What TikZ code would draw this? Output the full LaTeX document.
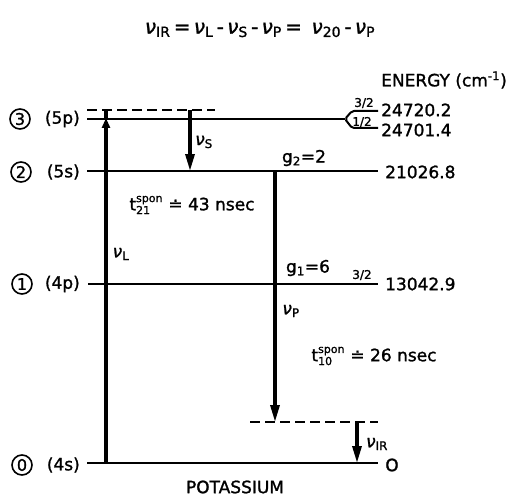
\documentclass[tikz,border=0pt]{standalone}
\usepackage{fontspec}
\setmainfont{DejaVu Sans}
\newfontfamily\lett{DejaVu Sans}[FakeBold=1.3]
\newcommand{\nusub}[1]{\textit{ν}\textsubscript{#1}}
\newcommand{\tspon}[1]{t$^{\mbox{\fontsize{11}{11}\selectfont spon}}_{\mbox{\fontsize{11}{11}\selectfont #1}}$}
\usetikzlibrary{positioning, arrows.meta}

\begin{document}
\begin{tikzpicture}[x=1pt, y=-1pt,
    level/.style={line width=2pt},
    virtual/.style={line width=2pt, dash pattern=on 10pt off 5pt},
    trans/.style={line width=3.2pt, -{Triangle[length=17pt, width=9pt]}},
    transup/.style={line width=3.2pt, -{Triangle[length=10pt, width=8pt]}},
    num/.style={draw, circle, line width=1.6pt, minimum size=20pt, inner sep=0pt,
                font=\lett\fontsize{16}{16}\selectfont},
    state/.style={font=\lett\fontsize{17}{18}\selectfont, anchor=east, inner sep=1pt},
    value/.style={font=\lett\fontsize{17}{18}\selectfont, anchor=west, inner sep=1pt},
    lbl/.style={font=\lett\fontsize{17}{18}\selectfont, inner sep=1pt},
    spin/.style={font=\lett\fontsize{12}{12}\selectfont, inner sep=0.5pt},
]
\useasboundingbox (0,0) rectangle (521,497);

% energy levels
\coordinate (L3w) at (87,119);  \coordinate (L3e) at (345,119);
\coordinate (L2w) at (87,171);  \coordinate (L2e) at (378,171);
\coordinate (L1w) at (88,284);  \coordinate (L1e) at (378,284);
\coordinate (L0w) at (87,463);  \coordinate (L0e) at (378,463);
\coordinate (V3w) at (87,110);  \coordinate (V3e) at (215,110);
\coordinate (V1w) at (250,422); \coordinate (V1e) at (378,422);
\coordinate (F32) at (378,111); \coordinate (F12) at (378,128);

\draw[level] (L3w) -- (L3e);
\draw[level, rounded corners=2pt] (F32) -- (352,111) -- (L3e) -- (352,128) -- (F12);
\draw[level] (L2w) -- (L2e);
\draw[level] (L1w) -- (L1e);
\draw[level] (L0w) -- (L0e);
\draw[virtual] (V3w) -- (V3e);
\draw[virtual] (V1w) -- (V1e);

% transitions
\coordinate (NLb) at (106,463);  \coordinate (NLm) at (106,118);  \coordinate (NLt) at (106,110);
\coordinate (NSt) at (190,110);  \coordinate (NSb) at (190,171);
\coordinate (NPt) at (275,171);  \coordinate (NPb) at (275,422);
\coordinate (NIt) at (357,422);  \coordinate (NIb) at (357,463);

\draw[line width=3.2pt] (NLm) -- (NLt);
\draw[transup] (NLb) -- (NLm);
\draw[trans] (NSt) -- (NSb);
\draw[trans] (NPt) -- (NPb);
\draw[trans] (NIt) -- (NIb);

% state labels
\node[num] (C3) at (20,119) {3};
\node[num] (C2) at (21,172) {2};
\node[num] (C1) at (22,284) {1};
\node[num] (C0) at (22,465) {0};
\node[state] (S3) at (81,119) {(5p)};
\node[state] (S2) at (81,172) {(5s)};
\node[state] (S1) at (81,284) {(4p)};
\node[state] (S0) at (81,465) {(4s)};

% energies
\node[value] (EN) at (380,80) {ENERGY (cm\textsuperscript{-1})};
\node[value] (E32) at (380,110) {24720.2};
\node[value] (E12) at (380,130) {24701.4};
\node[value] (E2) at (384,172) {21026.8};
\node[value] (E1) at (384,284) {13042.9};
\node[lbl] (E0) at (392,465) {O};
\node[spin] (J32) at (364,103) {3/2};
\node[spin] (J12) at (362,122) {1/2};
\node[spin] (J1) at (362,275) {3/2};

% transition labels
\node[lbl, font=\lett\fontsize{20}{20}\selectfont] (EQ) at (260,30)
    {\nusub{IR}\,=\,\nusub{L}\,-\,\nusub{S}\,-\,\nusub{P}\,=\, \nusub{20}\,-\,\nusub{P}};
\node[lbl] (NL) at (121,254) {\nusub{L}};
\node[lbl] (NS) at (204,142) {\nusub{S}};
\node[lbl] (NP) at (291,311) {\nusub{P}};
\node[lbl] (NI) at (377,444) {\nusub{IR}};
\node[lbl] (G2) at (304,158) {g\textsubscript{2}=2};
\node[lbl] (G1) at (308,268) {g\textsubscript{1}=6};
\node[lbl] (T21) at (192,205) {\tspon{21} ≐ 43 nsec};
\node[lbl] (T10) at (374,356) {\tspon{10} ≐ 26 nsec};
\node[lbl, inner sep=0pt] (K) at (235,487) {POTASSIUM};
\end{tikzpicture}
\end{document}
